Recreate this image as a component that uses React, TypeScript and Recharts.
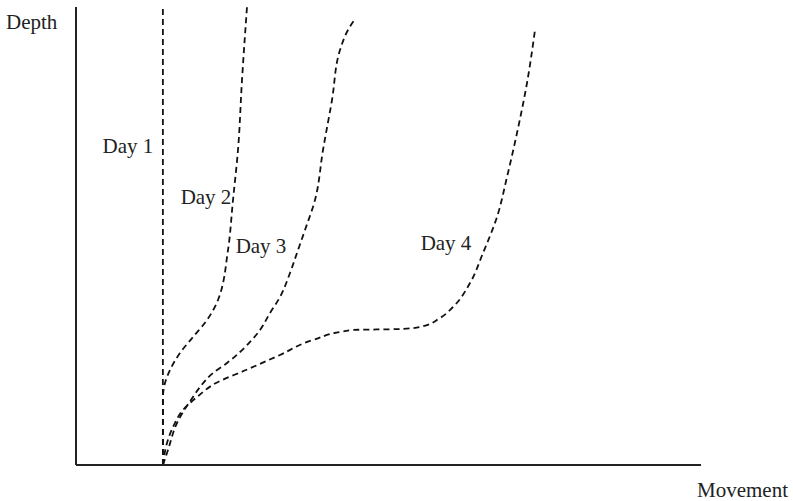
import { LineChart, Line, XAxis, YAxis, ReferenceDot } from 'recharts';

// movement (x) and depth (y) on a 0-100 scale
const day1Movement = [13.9, 13.9];
const day1Depth = [0, 100];

const day2Movement = [13.92, 13.92, 14.24, 15.04, 16.64, 18.72, 20.96, 22.72, 24.32, 25.12, 25.92, 26.56, 27.36];
const day2Depth = [0, 14.85, 17.9, 20.74, 24.45, 27.95, 31.66, 36.03, 46.94, 57.86, 68.78, 84.06, 100];

const day3Movement = [13.92, 14.72, 16.16, 18.72, 19.84, 21.92, 24.16, 26.24, 27.84, 29.44, 31.04, 32.64, 34.24, 35.52, 36.64, 38.24, 39.52, 40.96, 42.24, 43.52, 44.64];
const day3Depth = [0, 3.28, 9.17, 14.85, 17.03, 20.09, 22.27, 24.67, 26.86, 29.48, 33.19, 36.68, 41.92, 46.94, 51.31, 57.86, 68.78, 79.69, 90.61, 94.98, 97.38];

const day4Movement = [13.92, 14.56, 15.52, 17.12, 19.36, 22.4, 27.2, 32.64, 37.92, 44.32, 51.84, 55.04, 58.24, 60.32, 63.04, 65.12, 67.36, 68.96, 70.56, 72.16, 73.44];
const day4Depth = [0, 4.8, 8.3, 12.01, 14.85, 17.9, 20.74, 24.02, 27.29, 29.48, 29.69, 30.13, 32.1, 34.5, 39.74, 46.29, 54.15, 62.88, 72.49, 83.41, 94.98];

const dayLabels = ['Day 1', 'Day 2', 'Day 3', 'Day 4'];
const labelMovement = [8.3, 20.8, 29.6, 59.2];
const labelDepth = [69.7, 58.7, 48.0, 48.5];

const toPoints = (xs: number[], ys: number[]) => xs.map((m, i) => ({ movement: m, depth: ys[i] }));

const series = [
  toPoints(day1Movement, day1Depth),
  toPoints(day2Movement, day2Depth),
  toPoints(day3Movement, day3Depth),
  toPoints(day4Movement, day4Depth),
];

const font = '"Liberation Serif", "Times New Roman", serif';

export default function App() {
  return (
    <div style={{ position: 'absolute', left: 0, top: 0, width: 793, height: 501, background: '#fff' }}>
      <LineChart width={793} height={501} margin={{ top: 7, right: 92, bottom: 35, left: 75 }}>
        <XAxis
          type="number"
          dataKey="movement"
          domain={[0, 100]}
          height={1}
          tick={false}
          tickLine={false}
          axisLine={{ stroke: '#222', strokeWidth: 2 }}
        />
        <YAxis
          type="number"
          dataKey="depth"
          domain={[0, 100]}
          width={1}
          tick={false}
          tickLine={false}
          axisLine={{ stroke: '#222', strokeWidth: 2 }}
        />
        {series.map((pts, i) => (
          <Line
            key={dayLabels[i]}
            data={pts}
            dataKey="depth"
            type="monotoneY"
            stroke="#111"
            strokeWidth={1.8}
            strokeDasharray="6 4"
            dot={false}
            activeDot={false}
            isAnimationActive={false}
          />
        ))}
        {dayLabels.map((label, i) => (
          <ReferenceDot
            key={label}
            x={labelMovement[i]}
            y={labelDepth[i]}
            r={0}
            stroke="none"
            fill="none"
            label={{ value: label, position: 'center', fill: '#222', fontSize: 21, fontFamily: font }}
          />
        ))}
      </LineChart>
      <div style={{ position: 'absolute', left: 6, top: 10, fontSize: 21, lineHeight: '24px', fontFamily: font, color: '#222' }}>
        Depth
      </div>
      <div style={{ position: 'absolute', left: 697, top: 478, fontSize: 21, lineHeight: '24px', fontFamily: font, color: '#222' }}>
        Movement
      </div>
    </div>
  );
}
